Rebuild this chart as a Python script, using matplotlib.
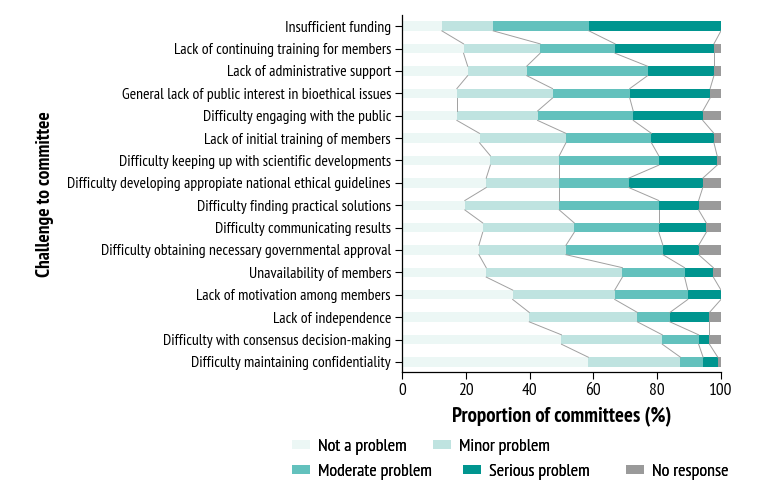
"""Stacked bar chart: challenges reported by national bioethics committees."""

import matplotlib
matplotlib.use("Agg")
import matplotlib.pyplot as plt
from matplotlib.patches import Patch
import numpy as np

plt.rcParams["font.family"] = ["PT Sans Narrow", "Liberation Sans", "DejaVu Sans"]

challenges = [
    "Insufficient funding",
    "Lack of continuing training for members",
    "Lack of administrative support",
    "General lack of public interest in bioethical issues",
    "Difficulty engaging with the public",
    "Lack of initial training of members",
    "Difficulty keeping up with scientific developments",
    "Difficulty developing appropiate national ethical guidelines",
    "Difficulty finding practical solutions",
    "Difficulty communicating results",
    "Difficulty obtaining necessary governmental approval",
    "Unavailability of members",
    "Lack of motivation among members",
    "Lack of independence",
    "Difficulty with consensus decision-making",
    "Difficulty maintaining confidentiality",
]

not_problem = [12.5, 19.3, 20.6, 17.2, 17.2, 24.3, 27.7, 26.4, 19.7, 25.3, 24.1, 26.4, 34.7, 39.9, 50.0, 58.4]
minor       = [16.1, 24.0, 18.5, 30.0, 25.3, 27.1, 21.6, 22.9, 29.6, 28.7, 27.3, 42.7, 32.0, 33.9, 31.6, 28.9]
moderate    = [30.0, 23.5, 37.9, 24.2, 30.0, 26.8, 31.2, 21.8, 31.2, 26.5, 30.4, 19.5, 22.9, 10.2, 11.4, 7.1]
serious     = [41.4, 31.0, 20.8, 25.2, 21.8, 19.6, 18.3, 23.2, 12.5, 14.9, 11.2, 9.0, 10.4, 12.4, 3.4, 4.6]
no_response = [0.0, 2.2, 2.2, 3.4, 5.7, 2.2, 1.2, 5.7, 7.0, 4.6, 7.0, 2.4, 0.0, 3.6, 3.6, 1.0]

series = [
    ("Not a problem", not_problem, "#ecf7f5"),
    ("Minor problem", minor, "#bfe3e0"),
    ("Moderate problem", moderate, "#63c1bd"),
    ("Serious problem", serious, "#00958f"),
    ("No response", no_response, "#9a9a9a"),
]

fig = plt.figure(figsize=(7.71, 4.91), dpi=100)
ax = fig.add_axes([0.5214, 0.2424, 0.4137, 0.7271])

y = np.arange(len(challenges))
h = 0.42
left = np.zeros(len(challenges))
bounds = []
for name, vals, col in series:
    vals = np.array(vals)
    ax.barh(y, vals, left=left, height=h, color=col, edgecolor="none")
    left = left + vals
    bounds.append(left.copy())

# series lines joining segment boundaries of neighbouring bars
for b in bounds:
    for i in range(len(y) - 1):
        ax.plot([b[i], b[i + 1]], [y[i] + h / 2, y[i + 1] - h / 2],
                color="#a0a0a0", lw=0.7, zorder=1)

ax.set_xlim(0, 100)
ax.set_ylim(15.45, -0.5)
ax.set_yticks(y)
ax.set_yticklabels(challenges, fontsize=11.3)
ax.set_xticks([0, 20, 40, 60, 80, 100])
ax.tick_params(axis="x", labelsize=12.5, length=5, width=0.8, pad=3)
ax.tick_params(axis="y", length=5, width=0.8, pad=3)
for s in ["top", "right"]:
    ax.spines[s].set_visible(False)
for s in ["left", "bottom"]:
    ax.spines[s].set_linewidth(0.9)

ax.set_xlabel("Proportion of committees (%)", fontsize=15, fontweight="bold", labelpad=6)
fig.text(0.058, 0.605, "Challenge to committee", rotation=90, fontsize=14,
         fontweight="bold", ha="center", va="center")

# legend entries placed individually to follow the reference spacing
legend_pos = [(0.379, 0.0896), (0.5616, 0.0896),
              (0.379, 0.0387), (0.6005, 0.0387), (0.812, 0.0387)]
for (name, _, col), (lx, ly) in zip(series, legend_pos):
    leg = fig.legend(handles=[Patch(facecolor=col, edgecolor="none", label=name)],
                     loc="center left", bbox_to_anchor=(lx, ly), frameon=False,
                     fontsize=13, handlelength=1.0, handleheight=0.45,
                     handletextpad=0.45, borderaxespad=0, borderpad=0)
    fig.add_artist(leg)

fig.savefig("out.png", dpi=100)
